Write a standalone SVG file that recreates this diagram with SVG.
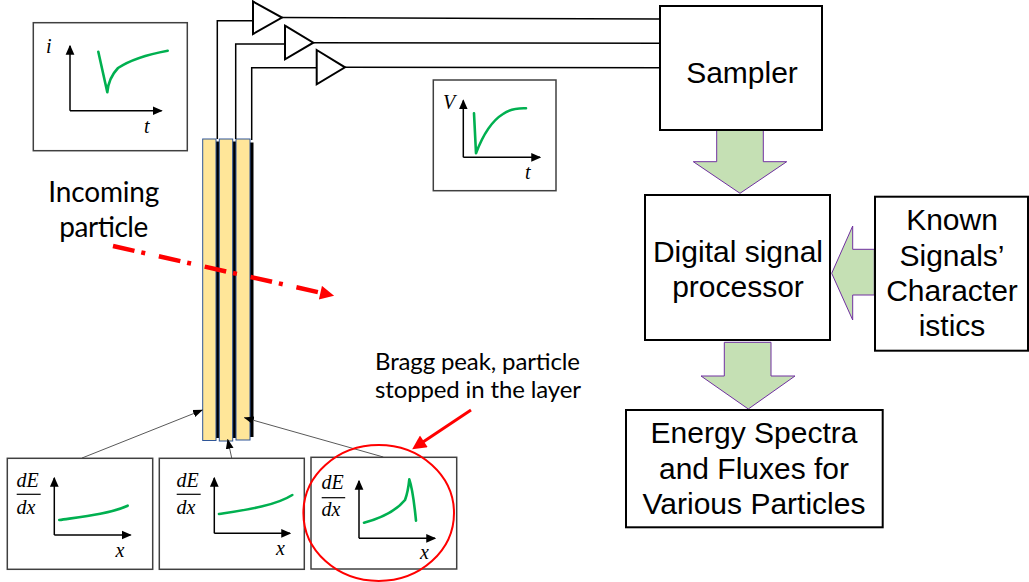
<svg xmlns="http://www.w3.org/2000/svg" width="1029" height="582" viewBox="0 0 1029 582">
<style>
.box{fill:#fff;stroke:#000;stroke-width:2}
.pbox{fill:#fff;stroke:#404040;stroke-width:1.5}
.lbl{font-family:"Liberation Sans",Arial,sans-serif;font-size:30px;fill:#000;text-anchor:middle}
.cal{font-family:Lato,"Open Sans",sans-serif;fill:#000}
.math{font-family:"Liberation Serif","Times New Roman",serif;font-style:italic;font-size:20px;fill:#000}
.ax{fill:none;stroke:#000;stroke-width:1.5}
.crv{fill:none;stroke:#00B050;stroke-width:2.6;stroke-linecap:round;stroke-linejoin:round}
.garr{fill:#C5E0B4;stroke:#7030A0;stroke-width:1}
.wire{fill:none;stroke:#000;stroke-width:1.5}
.amp{fill:#fff;stroke:#000;stroke-width:2}
.layer{fill:#FFE699;stroke:#2F5597;stroke-width:1}
.thin{fill:none;stroke:#595959;stroke-width:1}
</style>
<defs>
<marker id="axh" markerUnits="userSpaceOnUse" markerWidth="10" markerHeight="10" viewBox="0 -4 8 8" refX="7" refY="0" orient="auto"><path d="M0,-3.5 L8,0 L0,3.5 z" fill="#000"/></marker>
<marker id="thh" markerUnits="userSpaceOnUse" markerWidth="10" markerHeight="10" viewBox="0 -4 9 8" refX="8.5" refY="0" orient="auto"><path d="M0,-3.5 L9,0 L0,3.5 z" fill="#000"/></marker>
<marker id="redh" markerUnits="userSpaceOnUse" markerWidth="16" markerHeight="14" viewBox="0 -7 14 14" refX="1" refY="0" orient="auto"><path d="M0,-7 L14,0 L0,7 z" fill="#FF0000"/></marker>
</defs>

<!-- layers -->
<g id="detector">
<rect x="215" y="141.5" width="4.5" height="296.5" fill="#000"/>
<rect x="232" y="141.5" width="4.5" height="296.5" fill="#000"/>
<rect x="249" y="142.5" width="4.5" height="294.5" fill="#000"/>
<rect class="layer" x="202.7" y="139" width="13.3" height="301.5"/>
<rect class="layer" x="219.3" y="139" width="13.4" height="302"/>
<rect class="layer" x="236" y="139" width="14" height="301"/>
</g>

<g id="amplifiers">
<polygon class="amp" points="253,1.5 282,17.5 253,34"/>
<polygon class="amp" points="285,25.7 313.3,42.7 285,59.3"/>
<polygon class="amp" points="316.7,50 345,67.3 316.7,84.3"/>
</g>

<g id="connectors">
<path class="wire" d="M217.3,139 V20.7 H253"/>
<path class="wire" d="M235.7,139 V44 H285"/>
<path class="wire" d="M251.7,140 V67.7 H316.7"/>
<path class="wire" d="M282,17.5 L660,19"/>
<path class="wire" d="M313.3,42.7 L660,43.3"/>
<path class="wire" d="M345,67.3 L660,67.7"/>
<path class="thin" d="M82,458 L202.5,410" marker-end="url(#thh)"/>
<path class="thin" d="M231.7,458 L227.7,439.3" marker-end="url(#thh)"/>
<path class="thin" d="M383.3,457 L244.3,417.7" marker-end="url(#thh)"/>
<polygon class="garr" points="716.7,127.7 763.3,127.7 763.3,161.7 786.7,161.7 740,193.3 693.3,161.7 716.7,161.7"/>
<polygon class="garr" points="724.3,342.3 771,342.3 771,376 795,376 748.3,409 701,376 724.3,376"/>
<polygon class="garr" points="874.3,249.3 852.7,249.3 852.7,226 831.7,273.3 852.7,320 852.7,295 874.3,295"/>
<path d="M113,246 L321.4,292.9" fill="none" stroke="#FF0000" stroke-width="4.5" stroke-dasharray="22 7 4 14" marker-end="url(#redh)"/>
<path d="M471,410 L423,442" fill="none" stroke="#FF0000" stroke-width="3" marker-end="url(#redh)"/>
</g>

<g id="sampler">
<rect class="box" x="660" y="6" width="162" height="124"/>
<text class="lbl" x="742" y="83">Sampler</text>
</g>

<g id="dsp">
<rect class="box" x="645" y="195" width="185" height="145"/>
<text class="lbl" x="738" y="262">Digital signal</text>
<text class="lbl" x="738" y="297">processor</text>
</g>

<g id="known">
<rect class="box" x="875" y="196.7" width="153" height="154"/>
<text class="lbl" x="952" y="230">Known</text>
<text class="lbl" x="952" y="266">Signals’</text>
<text class="lbl" x="952" y="301">Character</text>
<text class="lbl" x="952" y="336">istics</text>
</g>

<g id="energy">
<rect class="box" x="626" y="410" width="256.7" height="117.3"/>
<text class="lbl" x="754" y="443">Energy Spectra</text>
<text class="lbl" x="754" y="479">and Fluxes for</text>
<text class="lbl" x="754" y="514">Various Particles</text>
</g>

<g id="incoming-label">
<text class="cal" font-size="28" x="48.3" y="201.5" textLength="111">Incoming</text>
<text class="cal" font-size="28" x="59.3" y="236.5" textLength="89">particle</text>
</g>

<g id="bragg-label">
<text class="cal" font-size="24" x="375" y="370" textLength="205">Bragg peak, particle</text>
<text class="cal" font-size="24" x="375" y="398" textLength="206">stopped in the layer</text>
</g>

<g id="plot-it">
<rect class="pbox" x="33.3" y="22.7" width="154" height="128"/>
<path class="ax" d="M70,110.7 V46" marker-end="url(#axh)"/>
<path class="ax" d="M70,110.7 H161.5" marker-end="url(#axh)"/>
<text class="math" x="46" y="53">i</text>
<text class="math" x="144" y="132.7">t</text>
<path class="crv" d="M98.3,51.7 L107.3,92.3 Q108.5,78 118,68 C130,60 150,54 167.7,50.7"/>
</g>

<g id="plot-vt">
<rect class="pbox" x="433.3" y="80" width="122.7" height="110.7"/>
<path class="ax" d="M463.3,157.3 V100.5" marker-end="url(#axh)"/>
<path class="ax" d="M463.3,157.3 H540" marker-end="url(#axh)"/>
<text class="math" x="443" y="109">V</text>
<text class="math" x="525" y="179">t</text>
<path class="crv" d="M474,113.3 L476,153.3 C481,140 490,122 503,114 C510,109 518,108 526,108.3"/>
</g>

<g id="plot-layer1">
<rect class="pbox" x="7.3" y="458.3" width="145.4" height="111" stroke="#000"/>
<text class="math" x="16.5" y="486.7">dE</text>
<line x1="16.7" y1="494.3" x2="40.7" y2="494.3" stroke="#000" stroke-width="1.2"/>
<text class="math" x="16.5" y="514">dx</text>
<path class="ax" d="M54.3,535 V478" marker-end="url(#axh)"/>
<path class="ax" d="M54.3,535 H130.5" marker-end="url(#axh)"/>
<text class="math" x="115.5" y="556.7">x</text>
<path class="crv" d="M59.3,520 C80,517 110,514 127.7,505.7"/>
</g>

<g id="plot-layer2">
<rect class="pbox" x="159.3" y="458.3" width="145" height="111" stroke="#000"/>
<text class="math" x="176.5" y="486.7">dE</text>
<line x1="176.7" y1="494.3" x2="200.7" y2="494.3" stroke="#000" stroke-width="1.2"/>
<text class="math" x="176.5" y="514">dx</text>
<path class="ax" d="M214.3,533.3 V478" marker-end="url(#axh)"/>
<path class="ax" d="M214.3,533.3 H290" marker-end="url(#axh)"/>
<text class="math" x="276" y="555">x</text>
<path class="crv" d="M219,514 C245,510 275,506 292.3,495"/>
</g>

<g id="plot-layer3">
<rect class="pbox" x="311" y="457.3" width="145.7" height="111.7"/>
<text class="math" x="321.5" y="489.3">dE</text>
<line x1="321.7" y1="497.7" x2="345.2" y2="497.7" stroke="#000" stroke-width="1.2"/>
<text class="math" x="321.5" y="516">dx</text>
<path class="ax" d="M359,538.3 V481" marker-end="url(#axh)"/>
<path class="ax" d="M359,538.3 H435" marker-end="url(#axh)"/>
<text class="math" x="420" y="559.3">x</text>
<path class="crv" d="M364,522.7 C378,519 395,512 405,500 Q408,492 409.3,479.3 Q413,490 416,520.7"/>
<ellipse cx="378.7" cy="513" rx="75.3" ry="68" fill="none" stroke="#FF0000" stroke-width="2"/>
</g>
</svg>
